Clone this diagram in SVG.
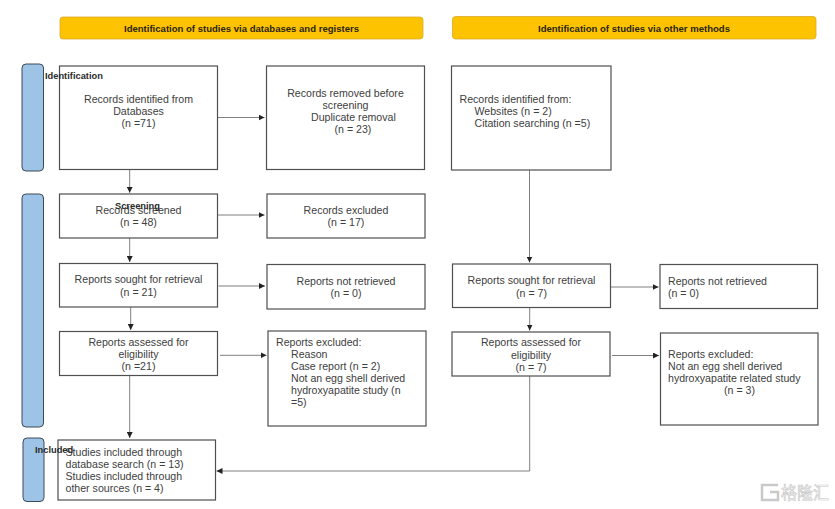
<svg xmlns="http://www.w3.org/2000/svg" width="835" height="509" viewBox="0 0 835 509">
<style>
text{font-family:"Liberation Sans",Arial,sans-serif;font-size:10.6px;fill:#404040}
.c{text-anchor:middle}
.h{font-weight:700;font-size:9.55px;fill:#2a2410;text-anchor:middle}
.s{font-weight:700;font-size:9.3px;fill:#2b2b2b}
.box{fill:#fff;stroke:#4f4f4f;stroke-width:1.2}
.hdr{fill:#fdc300;stroke:#d9a928;stroke-width:.8}
.bar{fill:#9dc3e6;stroke:#3d4a58;stroke-width:1}
.ln{fill:none;stroke:#707070;stroke-width:.9;marker-end:url(#a)}
.wm{font-family:"Noto Sans CJK SC",sans-serif;font-size:17px;fill:#fff;stroke:#c9c9c9;stroke-width:.7}
</style>
<defs><marker id="a" markerUnits="userSpaceOnUse" markerWidth="7" markerHeight="6" refX="6" refY="3" orient="auto"><path d="M0 0L6 3L0 6Z" fill="#222"/></marker></defs>
<rect width="835" height="509" fill="#fff"/>
<g id="header-databases"><rect class="hdr" x="60" y="17" width="363" height="22" rx="3"/><text class="h" x="241.500" y="31.500">Identification of studies via databases and registers</text></g>
<g id="header-other"><rect class="hdr" x="452.500" y="16.500" width="363.500" height="22.500" rx="3"/><text class="h" x="634" y="31.500">Identification of studies via other methods</text></g>
<g id="stage-identification"><rect class="bar" x="22" y="64" width="21.500" height="107" rx="4"/></g>
<g id="stage-screening"><rect class="bar" x="22" y="194" width="21.500" height="233" rx="4"/></g>
<g id="stage-included"><rect class="bar" x="23" y="438" width="21" height="63.500" rx="4"/></g>
<g id="connectors">
<path class="ln" d="M217.500 117.500H264.500"/>
<path class="ln" d="M129.700 169.500V192.800"/>
<path class="ln" d="M217.500 215H264.500"/>
<path class="ln" d="M129.700 238V262"/>
<path class="ln" d="M218.500 286H265"/>
<path class="ln" d="M130.700 307V330"/>
<path class="ln" d="M220 355.300H266.500"/>
<path class="ln" d="M129.700 375.500V438"/>
<path class="ln" d="M529.500 170V262.500"/>
<path class="ln" d="M611 287H658.500"/>
<path class="ln" d="M529.700 307.500V330.500"/>
<path class="ln" d="M612 355.500H659"/>
<path class="ln" d="M529.700 376V471H216.500"/>
</g>
<g id="records-databases"><rect class="box" x="59.500" y="66" width="158" height="103.500"/><text class="c" x="138.500" y="102.500">Records identified from</text><text class="c" x="138.500" y="115">Databases</text><text class="c" x="138.500" y="127">(n =71)</text></g>
<g id="records-removed"><rect class="box" x="266.500" y="66" width="158" height="103.500"/><text class="c" x="345.500" y="96.500">Records removed before</text><text class="c" x="345.500" y="109">screening</text><text x="311" y="121">Duplicate removal</text><text class="c" x="353" y="133">(n = 23)</text></g>
<g id="records-screened"><rect class="box" x="59.500" y="194" width="158" height="44"/><text class="c" x="138.500" y="214">Records screened</text><text class="c" x="138.500" y="226">(n = 48)</text></g>
<g id="records-excluded"><rect class="box" x="267" y="194" width="158" height="44"/><text class="c" x="346" y="214">Records excluded</text><text class="c" x="346" y="226">(n = 17)</text></g>
<g id="sought-databases"><rect class="box" x="59.500" y="263.500" width="158" height="43.500"/><text class="c" x="138.500" y="283">Reports sought for retrieval</text><text class="c" x="138.500" y="296">(n = 21)</text></g>
<g id="not-retrieved-databases"><rect class="box" x="267" y="264.500" width="158" height="44.500"/><text class="c" x="346" y="285">Reports not retrieved</text><text class="c" x="346" y="297">(n = 0)</text></g>
<g id="assessed-databases"><rect class="box" x="59.500" y="331.500" width="158" height="44"/><text class="c" x="138.500" y="345.500">Reports assessed for</text><text class="c" x="138.500" y="358">eligibility</text><text class="c" x="138.500" y="370">(n =21)</text></g>
<g id="excluded-databases"><rect class="box" x="268" y="331" width="158" height="95"/><text x="276" y="345.500">Reports excluded:</text><text x="291" y="358">Reason</text><text x="291" y="370">Case report (n = 2)</text><text x="291" y="382">Not an egg shell derived</text><text x="291" y="394">hydroxyapatite study (n</text><text x="291" y="406">=5)</text></g>
<g id="included"><rect class="box" x="58" y="440" width="157.500" height="60"/><text x="65.500" y="456">Studies included through</text><text x="65.500" y="468">database search (n = 13)</text><text x="65.500" y="480">Studies included through</text><text x="65.500" y="492">other sources (n = 4)</text></g>
<g id="records-other"><rect class="box" x="451.500" y="66" width="159.500" height="104"/><text x="459.500" y="102.500">Records identified from:</text><text x="474.500" y="115">Websites (n = 2)</text><text x="474.500" y="127">Citation searching (n =5)</text></g>
<g id="sought-other"><rect class="box" x="452.500" y="264" width="158" height="43.500"/><text class="c" x="531.500" y="284">Reports sought for retrieval</text><text class="c" x="531.500" y="296.500">(n = 7)</text></g>
<g id="not-retrieved-other"><rect class="box" x="660" y="264.500" width="157.500" height="44"/><text x="668" y="285">Reports not retrieved</text><text x="668" y="297">(n = 0)</text></g>
<g id="assessed-other"><rect class="box" x="452" y="332" width="158" height="44"/><text class="c" x="531" y="346">Reports assessed for</text><text class="c" x="531" y="359">eligibility</text><text class="c" x="531" y="371">(n = 7)</text></g>
<g id="excluded-other"><rect class="box" x="660.500" y="333" width="157.500" height="92"/><text x="668" y="358">Reports excluded:</text><text x="668" y="370">Not an egg shell derived</text><text x="668" y="382">hydroxyapatite related study</text><text class="c" x="739.500" y="394">(n = 3)</text></g>
<g id="stage-labels"><text class="s" x="45" y="79">Identification</text><text class="s" x="115" y="208.500">Screening</text><text class="s" x="35" y="452.500">Included</text></g>
<text class="wm" x="781" y="498.500" textLength="48" lengthAdjust="spacingAndGlyphs">格隆汇</text>
<path d="M778 485H762V500H778V492H770" fill="none" stroke="#c9c9c9" stroke-width="2.500"/>
</svg>
